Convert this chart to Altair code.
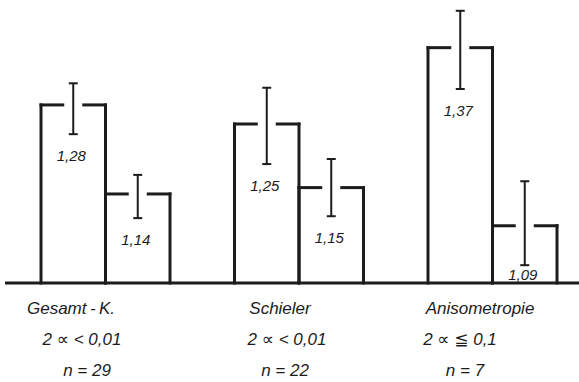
import altair as alt
import pandas as pd

# ---- data -------------------------------------------------------------
groups = ["Gesamt\u2009-\u2009K.", "Schieler", "Anisometropie"]
significance = ["2 ∝ < 0,01", "2 ∝ < 0,01", "2 ∝ ≦ 0,1"]
n_cases = [29, 22, 7]

means_first = [1.28, 1.25, 1.37]
means_second = [1.14, 1.15, 1.09]
err_low_first = [1.234, 1.187, 1.305]
err_high_first = [1.314, 1.307, 1.428]
err_low_second = [1.102, 1.105, 1.028]
err_high_second = [1.170, 1.195, 1.160]

# ---- layout -----------------------------------------------------------
W, H = 579, 382
UNIT_PX = 64.5          # width of one bar in pixels
X0_PX = 41              # left edge of the first group
BASE_PX = 283           # pixel row of the value 1.0 baseline
PX_PER_VALUE = 636      # pixels per unit of the value axis
GAP = 10.5 / UNIT_PX    # half gap in the bar top around the error bar
CAP = 4.5 / UNIT_PX     # half width of the error bar caps
INK = "#1c1c1c"
FONT = "Liberation Sans, DejaVu Sans"

x_dom = [-X0_PX / UNIT_PX, (W - X0_PX) / UNIT_PX]
y_dom = [1 - (H - BASE_PX) / PX_PER_VALUE, 1 + BASE_PX / PX_PER_VALUE]
xs = alt.Scale(domain=x_dom, nice=False, zero=False)
ys = alt.Scale(domain=y_dom, nice=False, zero=False)

bars = []
for g in range(len(groups)):
    for j, (m, lo, hi) in enumerate([
        (means_first[g], err_low_first[g], err_high_first[g]),
        (means_second[g], err_low_second[g], err_high_second[g]),
    ]):
        left = 3 * g + j
        bars.append(dict(group=groups[g], left=left, right=left + 1,
                         center=left + 0.5, value=m, lo=lo, hi=hi))
bars = pd.DataFrame(bars)

# outline pieces: both sides plus the bar top split around the error bar
outline = []
err = []
for _, b in bars.iterrows():
    outline += [
        dict(x=b.left, x2=b.left, y=1.0, y2=b.value),
        dict(x=b.right, x2=b.right, y=1.0, y2=b.value),
        dict(x=b.left, x2=b.center - GAP, y=b.value, y2=b.value),
        dict(x=b.center + GAP, x2=b.right, y=b.value, y2=b.value),
    ]
    err += [
        dict(x=b.center, x2=b.center, y=b.lo, y2=b.hi),
        dict(x=b.center - CAP, x2=b.center + CAP, y=b.lo, y2=b.lo),
        dict(x=b.center - CAP, x2=b.center + CAP, y=b.hi, y2=b.hi),
    ]
outline = pd.DataFrame(outline)
err = pd.DataFrame(err)

enc = dict(
    x=alt.X("x:Q", scale=xs, axis=None),
    x2="x2:Q",
    y=alt.Y("y:Q", scale=ys, axis=None),
    y2="y2:Q",
)

outline_layer = alt.Chart(outline).mark_rule(
    color=INK, strokeWidth=3, strokeCap="square"
).encode(**enc)

err_layer = alt.Chart(err).mark_rule(
    color=INK, strokeWidth=2, strokeCap="butt"
).encode(**enc)

baseline = alt.Chart(pd.DataFrame({"v": [1.0]})).mark_rule(
    color=INK, strokeWidth=3
).encode(
    x=alt.value(5), x2=alt.value(W),
    y=alt.Y("v:Q", scale=ys, axis=None),
)

# value labels under each error bar, kept above the baseline
labels = bars.copy()
labels["text"] = labels["value"].map(lambda v: f"{v:.2f}".replace(".", ","))
labels["ypos"] = (labels["lo"] - 22 / PX_PER_VALUE).clip(lower=1 + 8 / PX_PER_VALUE)
labels["xpos"] = labels["center"] - 2 / UNIT_PX

value_text = alt.Chart(labels).mark_text(
    font=FONT, fontSize=15, fontStyle="italic", color=INK, baseline="middle"
).encode(
    x=alt.X("xpos:Q", scale=xs, axis=None),
    y=alt.Y("ypos:Q", scale=ys, axis=None),
    text="text:N",
)

# three rows of group captions below the baseline
row_px = [309, 340, 371]
row_offsets_px = [[30, 45.5, 52], [41, 52.5, 32], [46, 50.5, 37]]
rows = [groups, significance, [f"n = {n}" for n in n_cases]]
captions = []
for r, texts in enumerate(rows):
    for g, t in enumerate(texts):
        captions.append(dict(row=r, text=t,
                             xpos=3 * g + row_offsets_px[r][g] / UNIT_PX,
                             ypx=row_px[r]))
captions = pd.DataFrame(captions)

caption_text = alt.Chart(captions).mark_text(
    font=FONT, fontSize=17, fontStyle="italic", color=INK, baseline="middle"
).encode(
    x=alt.X("xpos:Q", scale=xs, axis=None),
    y=alt.Y("ypx:Q", scale=alt.Scale(domain=[0, H], range=[0, H]), axis=None),
    text="text:N",
)

chart = alt.layer(
    baseline, outline_layer, err_layer, value_text, caption_text
).resolve_scale(y="independent").properties(
    width=W, height=H, padding=0, autosize=alt.AutoSizeParams(type="none"),
    background="white",
).configure_view(stroke=None)

chart.save("out.html", embed_options={"renderer": "svg", "actions": False})
